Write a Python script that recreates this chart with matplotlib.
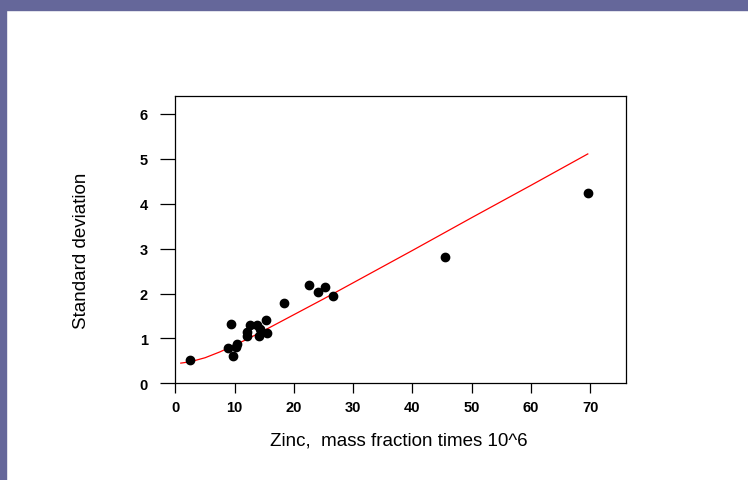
import numpy as np
import matplotlib
matplotlib.use('Agg')
import matplotlib.pyplot as plt

plt.rcParams['font.family'] = ['Liberation Sans', 'DejaVu Sans']

# measured points (zinc mass fraction x 10^6, standard deviation)
zinc = [2.4, 8.9, 9.45, 9.7, 10.2, 10.4, 12.0, 12.0, 12.5, 13.7, 14.1, 14.3,
        15.2, 15.4, 18.3, 22.5, 24.1, 25.3, 26.6, 45.5, 69.7]
sd = [0.53, 0.79, 1.32, 0.61, 0.82, 0.88, 1.05, 1.15, 1.30, 1.31, 1.06, 1.21,
      1.40, 1.12, 1.80, 2.20, 2.03, 2.14, 1.94, 2.81, 4.25]

# red fitted curve
fit_x = [0.9, 2.5, 5, 7.5, 10, 12.5, 15, 20, 25, 30, 40, 50, 60, 69.6]
fit_y = [0.45, 0.48, 0.57, 0.70, 0.85, 1.01, 1.18, 1.53, 1.88, 2.24, 2.96, 3.69, 4.41, 5.11]

xticks = [0, 10, 20, 30, 40, 50, 60, 70]
yticks = [0, 1, 2, 3, 4, 5, 6]

fig = plt.figure(figsize=(7.48, 4.81), dpi=100)
fig.patch.set_facecolor('white')

# purple frame at top and left
fig.patches.append(plt.Rectangle((0, 1 - 11 / 481), 1, 11 / 481, transform=fig.transFigure,
                                 color='#65679a', zorder=0))
fig.patches.append(plt.Rectangle((0, 0), 6 / 748, 1, transform=fig.transFigure,
                                 color='#65679a', zorder=0))

ax = fig.add_axes([0.2346, 0.2010, 0.6019, 0.5973])
ax.plot(fit_x, fit_y, color='red', lw=0.9, zorder=2)
ax.plot(zinc, sd, 'o', color='black', ms=6, zorder=3)

ax.set_xlim(0, 76)
ax.set_ylim(0, 6.4)
ax.set_xticks(xticks)
ax.set_yticks(yticks)
ax.tick_params(axis='x', direction='out', length=7, width=0.9, pad=5, labelsize=10.5)
ax.tick_params(axis='y', direction='out', length=11, width=0.9, pad=9, labelsize=10.5)
for lab in ax.get_xticklabels() + ax.get_yticklabels():
    lab.set_fontweight('bold')
for s in ax.spines.values():
    s.set_linewidth(0.9)

ax.set_xlabel('Zinc,  mass fraction times 10^6', fontsize=13.5)
ax.set_ylabel('Standard deviation', fontsize=13.5)
ax.xaxis.set_label_coords(0.497, -0.166)
ax.yaxis.set_label_coords(-0.19, 0.464)

fig.savefig('out.png', dpi=100)
